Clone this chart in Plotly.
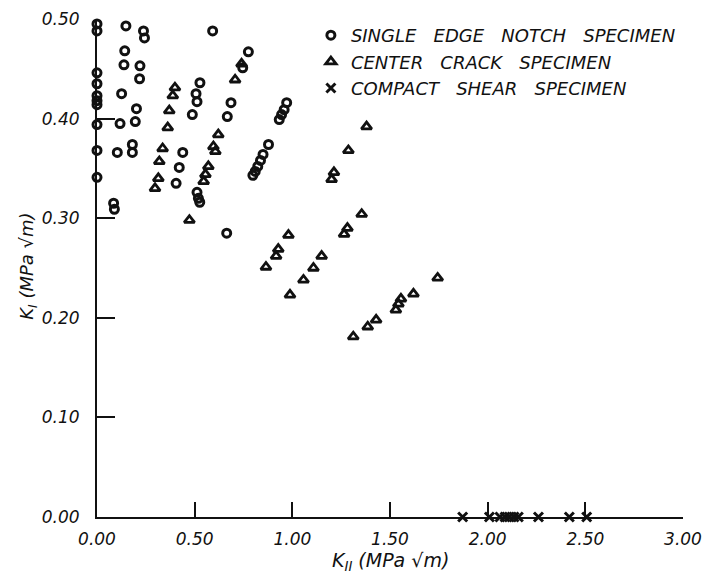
import plotly.graph_objects as go

# Single edge notch specimen (open circles)
sen_kii = [0, 0, 0, 0, 0, 0, 0, 0, 0, 0,
           0.148, 0.142, 0.138, 0.126, 0.118, 0.104, 0.085, 0.089,
           0.238, 0.243, 0.220, 0.218, 0.202, 0.196, 0.181, 0.181,
           0.592, 0.527, 0.507, 0.512, 0.488, 0.439, 0.421, 0.405,
           0.512, 0.519, 0.526, 0.664, 0.775, 0.746, 0.686, 0.667,
           0.971, 0.958, 0.945, 0.933,
           0.878, 0.850, 0.837, 0.823, 0.810, 0.798]
sen_ki = [0.495, 0.488, 0.446, 0.435, 0.423, 0.418, 0.414, 0.394, 0.368, 0.341,
          0.493, 0.468, 0.454, 0.425, 0.395, 0.366, 0.315, 0.309,
          0.488, 0.481, 0.453, 0.440, 0.410, 0.397, 0.374, 0.366,
          0.488, 0.436, 0.425, 0.417, 0.404, 0.366, 0.351, 0.335,
          0.326, 0.320, 0.316, 0.285, 0.467, 0.451, 0.416, 0.402,
          0.416, 0.409, 0.404, 0.399,
          0.374, 0.364, 0.358, 0.352, 0.347, 0.343]

# Center crack specimen (open triangles)
cc_kii = [0.399, 0.388, 0.370, 0.362, 0.336, 0.319, 0.314, 0.297,
          0.473,
          0.740, 0.707, 0.621, 0.596, 0.606, 0.570, 0.555, 0.546,
          1.380, 1.287, 1.213, 1.201,
          1.355, 1.282, 1.265,
          0.980, 0.928, 0.917, 0.865,
          1.150, 1.108, 1.057, 0.988,
          1.744, 1.620, 1.530, 1.543, 1.556, 1.429, 1.386, 1.312]
cc_ki = [0.431, 0.423, 0.408, 0.391, 0.370, 0.357, 0.340, 0.330,
         0.298,
         0.455, 0.439, 0.384, 0.372, 0.367, 0.352, 0.344, 0.337,
         0.392, 0.368, 0.346, 0.339,
         0.304, 0.290, 0.284,
         0.283, 0.269, 0.262, 0.251,
         0.262, 0.250, 0.238, 0.223,
         0.240, 0.224, 0.208, 0.214, 0.219, 0.198, 0.191, 0.181]

# Compact shear specimen (crosses)
cs_kii = [1.872, 2.009, 2.063, 2.089, 2.111, 2.135, 2.157, 2.260, 2.418, 2.507]
cs_ki = [0.0, 0.0, 0.0, 0.0, 0.0, 0.0, 0.0, 0.0, 0.0, 0.0]

x_ticks = [0.0, 0.5, 1.0, 1.5, 2.0, 2.5, 3.0]
y_ticks = [0.0, 0.1, 0.2, 0.3, 0.4, 0.5]
x_range = [0, 3]
y_range = [0, 0.5]

G = "\u00a0\u00a0 "
names = [f"SINGLE{G}EDGE{G}NOTCH{G}SPECIMEN",
         f"CENTER{G}CRACK{G}SPECIMEN",
         f"COMPACT{G}SHEAR{G}SPECIMEN"]

INK = "#111111"
FONT = "DejaVu Sans"

fig = go.Figure()
fig.add_trace(go.Scatter(
    x=sen_kii, y=sen_ki, mode="markers", name=names[0], cliponaxis=False,
    marker=dict(symbol="circle-open", size=8, color=INK, line=dict(width=3, color=INK))))
fig.add_trace(go.Scatter(
    x=cc_kii, y=cc_ki, mode="markers", name=names[1], cliponaxis=False,
    marker=dict(symbol="triangle-up-open", size=9, color=INK, line=dict(width=2.8, color=INK))))
fig.add_trace(go.Scatter(
    x=cs_kii, y=cs_ki, mode="markers", name=names[2], cliponaxis=False,
    marker=dict(symbol="x-thin-open", size=9, color=INK, line=dict(width=3, color=INK))))

axis_common = dict(
    showgrid=False, zeroline=False, showline=True, linecolor=INK, linewidth=2,
    ticks="inside", tickcolor=INK, tickwidth=1.8, tickformat=".2f", automargin=False,
    tickfont=dict(family=FONT, size=17, color=INK, style="italic"),
)

fig.update_layout(
    width=715, height=582,
    margin=dict(l=89, r=40, t=9, b=73),
    paper_bgcolor="white", plot_bgcolor="white",
    xaxis=dict(range=x_range, tickvals=x_ticks, ticklen=15, ticklabelstandoff=6, **axis_common),
    yaxis=dict(range=y_range, tickvals=y_ticks, ticklen=18, ticklabelstandoff=12, **axis_common),
    showlegend=True,
    legend=dict(x=0.365, y=1.004, xanchor="left", yanchor="top",
                font=dict(family=FONT, size=18, color=INK, style="italic"),
                bgcolor="rgba(0,0,0,0)", tracegroupgap=0),
    annotations=[
        dict(text="K<sub>II</sub> (MPa √m)", xref="paper", yref="paper",
             x=0.5, y=-0.09, xanchor="center", yanchor="middle", showarrow=False,
             font=dict(family=FONT, size=19, color=INK, style="italic")),
        dict(text="K<sub>I</sub> (MPa √m)", xref="paper", yref="paper",
             x=-0.118, y=0.504, xanchor="center", yanchor="middle", showarrow=False,
             textangle=-90,
             font=dict(family=FONT, size=18, color=INK, style="italic")),
    ],
)

fig.write_html("out.html")
